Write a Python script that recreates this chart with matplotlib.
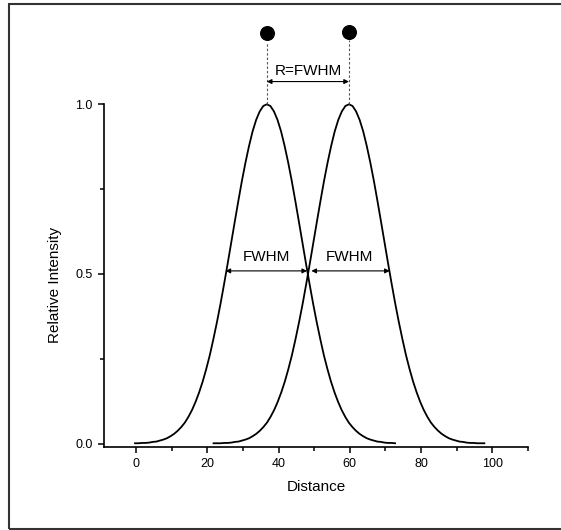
import matplotlib
matplotlib.use("Agg")
import matplotlib.pyplot as plt
from matplotlib.patches import Rectangle

plt.rcParams['font.family'] = ['Liberation Sans', 'DejaVu Sans']

# peak positions of the two profiles and the dots above them
peak_x = [36.7, 59.75]
dot_y = [1.209, 1.214]

# relative intensity read at 0, 1, 2, ... units away from a peak
profile = [1.000, 0.995, 0.979, 0.954, 0.920, 0.877, 0.828, 0.774, 0.715, 0.654,
           0.592, 0.530, 0.470, 0.412, 0.358, 0.308, 0.261, 0.220, 0.183, 0.151,
           0.123, 0.099, 0.079, 0.062, 0.049, 0.038, 0.029, 0.022, 0.016, 0.012,
           0.009, 0.006, 0.005, 0.003, 0.002, 0.002, 0.001, 0.001, 0.001]

# sample offsets covered by each curve (left end, right end)
curve_span = [(-37, 36), (-38, 38)]

# FWHM arrows at half height
fwhm_y = 0.509
fwhm_arrows = [(25.1, 48.0), (49.2, 71.2)]
r_arrow_y = 1.067
r_text_y = 1.098

fig = plt.figure(figsize=(5.61, 5.30), dpi=100)
ax = fig.add_axes([104 / 561, 83 / 530, 424 / 561, 444.5 / 530])

for cx, (a, b) in zip(peak_x, curve_span):
    ks = list(range(a, b + 1))
    xs = [cx + k for k in ks]
    ys = [profile[abs(k)] for k in ks]
    ax.plot(xs, ys, color='black', lw=1.3, solid_joinstyle='round')

# dots and dashed guide lines
for cx, dy in zip(peak_x, dot_y):
    ax.plot([cx, cx], [1.0, dy - 0.025], color='#555555', lw=0.8,
            linestyle=(0, (2.2, 1.8)), clip_on=False)
    ax.plot(cx, dy, 'o', color='black', markersize=9.8, clip_on=False)

arrow_kw = dict(arrowstyle='<|-|>', mutation_scale=7, lw=0.8, color='black',
                shrinkA=0, shrinkB=0)
for x0, x1 in fwhm_arrows:
    ax.annotate('', xy=(x1, fwhm_y), xytext=(x0, fwhm_y), arrowprops=arrow_kw)
ax.annotate('', xy=(peak_x[1], r_arrow_y), xytext=(peak_x[0], r_arrow_y),
            arrowprops=arrow_kw, annotation_clip=False)

ax.text(peak_x[0], fwhm_y + 0.02, 'FWHM', ha='center', va='bottom', fontsize=11)
ax.text(peak_x[1], fwhm_y + 0.02, 'FWHM', ha='center', va='bottom', fontsize=11)
ax.text((peak_x[0] + peak_x[1]) / 2, r_text_y, 'R=FWHM', ha='center', va='center',
        fontsize=11)

ax.set_xlim(-9, 110)
ax.set_ylim(-0.01, 1.3)
ax.set_xticks([0, 20, 40, 60, 80, 100])
ax.set_xticks([10, 30, 50, 70, 90, 110], minor=True)
ax.set_yticks([0.0, 0.5, 1.0])
ax.set_yticklabels(['0.0', '0.5', '1.0'])
ax.set_yticks([0.25, 0.75], minor=True)

for side in ['top', 'right']:
    ax.spines[side].set_visible(False)
ax.spines['left'].set_bounds(-0.01, 1.0)
for side in ['left', 'bottom']:
    ax.spines[side].set_linewidth(1.2)

ax.tick_params(which='major', direction='out', length=4.5, width=1.1, labelsize=9)
ax.tick_params(which='minor', direction='out', length=3, width=1.1)
ax.patch.set_visible(False)

ax.set_xlabel('Distance', fontsize=11)
ax.xaxis.set_label_coords(0.502, -0.074)
ax.set_ylabel('Relative Intensity', fontsize=11)
ax.yaxis.set_label_coords(-0.099, 0.364)

# outer frame (its right edge lies outside the picture)
fig.add_artist(Rectangle((9 / 561, 1.5 / 530), 620 / 561, 525 / 530,
                         transform=fig.transFigure, fill=False,
                         edgecolor='#333333', lw=1.5))

fig.savefig('out.png', dpi=100)
